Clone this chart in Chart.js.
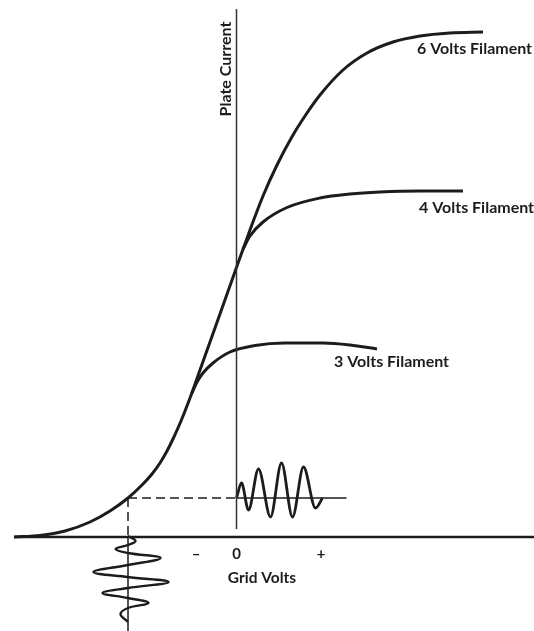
<!DOCTYPE html>
<html>
<head>
<meta charset="utf-8">
<title>Plate Current vs Grid Volts</title>
<script src="https://cdn.jsdelivr.net/npm/chart.js@4.4.1/dist/chart.umd.min.js"></script>
<style>
  html, body { margin: 0; padding: 0; background: #fff; }
  #wrap { width: 534px; height: 631px; position: relative; }
</style>
</head>
<body>
<div id="wrap"><canvas id="tubeChart"></canvas></div>
<script>
// x = grid volts, y = plate current (arbitrary units)
const filament6V = [
    [-22.25, 0], [-19.65, 0.15], [-17.15, 0.6], [-14.65, 1.5], [-12.65, 2.6], [-10.85, 3.9],
    [-9.35, 5.3], [-8.45, 6.3], [-7.65, 7.4], [-6.95, 8.6], [-6.35, 9.8], [-5.55, 11.6],
    [-4.65, 13.9], [-3.65, 16.7], [-2.15, 20.9], [0.05, 27.1], [1.35, 30.7], [2.65, 34.1],
    [4.05, 37.2], [5.65, 40.2], [7.05, 42.4], [8.35, 44.2], [10.65, 46.7], [13.05, 48.4],
    [15.65, 49.5], [18.35, 50.1], [21.35, 50.4], [24.65, 50.5]
];
const filament4V = [
    [0.65, 28.8], [1.35, 30.1], [2.65, 31.5], [5.05, 32.95], [8.35, 33.9], [11.35, 34.3],
    [14.35, 34.5], [18.35, 34.6], [22.65, 34.6]
];
const filament3V = [
    [-4.45, 14.4], [-3.95, 15.5], [-3.35, 16.4], [-2.35, 17.4], [-0.65, 18.5], [1.85, 19.15],
    [4.85, 19.4], [8.65, 19.4], [11.35, 19.2], [14.05, 18.8]
];
// output swing drawn on the plate side
const plateWave = [
    [0, 3.9], [0.5, 5.4], [1.2, 2.7], [2.2, 6.8], [3.4, 2.0], [4.5, 7.4],
    [5.6, 2.0], [6.7, 7.0], [7.9, 2.9], [8.6, 3.9]
];
// input signal drawn down the grid side
const gridWave = [
    [-10.85, 0.1], [-10.1, -0.4], [-10.85, -0.8], [-12.1, -1.2], [-10.85, -1.6],
    [-7.6, -2.1], [-10.85, -2.8], [-14.3, -3.5], [-10.85, -4.0], [-6.8, -4.5],
    [-10.85, -5.1], [-13.4, -5.6], [-10.85, -6.1], [-8.8, -6.6], [-10.85, -7.1],
    [-11.6, -7.7], [-10.85, -8.5]
];
const operatingPoint = [-10.85, 3.9];
const gridAxisRange = [-22.25, 29.75];
const plateAxisRange = [0.8, 52.8];
const plateBaselineEnd = 11.0;

const curveLabels = ['6 Volts Filament', '4 Volts Filament', '3 Volts Filament'];
const gridTicks = [-4.05, 0, 8.45];
const gridTickLabels = ['–', '0', '+'];

const INK = '#1c1c1c';

function pts(arr) {
    return arr.map(p => ({ x: p[0], y: p[1] }));
}

function lineSet(data, extra) {
    return Object.assign({
        data: data,
        showLine: true,
        pointRadius: 0,
        borderColor: INK,
        borderWidth: 3,
        fill: false
    }, extra || {});
}

// text placed in data coordinates
const textPlugin = {
    id: 'curveText',
    afterDatasetsDraw(chart) {
        const { ctx } = chart;
        const xs = chart.scales.x;
        const ys = chart.scales.y;
        const spots = [
            { text: curveLabels[0], at: [18.05, 48.8], align: 'left', size: 16 },
            { text: curveLabels[1], at: [18.25, 32.9], align: 'left', size: 16 },
            { text: curveLabels[2], at: [9.75, 17.5], align: 'left', size: 16 },
            { text: 'Grid Volts', at: [2.55, -4.1], align: 'center', size: 15.5 },
            { text: 'Plate Current', at: [-1.05, 46.8], align: 'center', size: 16, rotate: true }
        ];
        ctx.save();
        ctx.fillStyle = INK;
        ctx.textBaseline = 'middle';
        spots.forEach(s => {
            const px = xs.getPixelForValue(s.at[0]);
            const py = ys.getPixelForValue(s.at[1]);
            ctx.font = 'bold ' + s.size + 'px Lato';
            ctx.textAlign = s.align;
            if (s.rotate) {
                ctx.save();
                ctx.translate(px, py);
                ctx.rotate(-Math.PI / 2);
                ctx.fillText(s.text, 0, 0);
                ctx.restore();
            } else {
                ctx.fillText(s.text, px, py);
            }
        });
        ctx.restore();
    }
};

const ctx = document.getElementById('tubeChart').getContext('2d');
new Chart(ctx, {
    type: 'scatter',
    data: {
        datasets: [
            // axes
            lineSet([{ x: gridAxisRange[0], y: 0 }, { x: gridAxisRange[1], y: 0 }], { borderWidth: 2.5 }),
            lineSet([{ x: 0, y: plateAxisRange[1] }, { x: 0, y: plateAxisRange[0] }], { borderWidth: 1.5, borderColor: '#3a2e2e' }),
            // operating point projections
            lineSet([{ x: operatingPoint[0], y: operatingPoint[1] }, { x: 0, y: operatingPoint[1] }], { borderWidth: 1.5, borderDash: [9, 5] }),
            lineSet([{ x: operatingPoint[0], y: operatingPoint[1] }, { x: operatingPoint[0], y: 0 }], { borderWidth: 1.5, borderDash: [9, 5] }),
            lineSet([{ x: operatingPoint[0], y: 0 }, { x: operatingPoint[0], y: -9.4 }], { borderWidth: 1.5 }),
            lineSet([{ x: 0, y: operatingPoint[1] }, { x: plateBaselineEnd, y: operatingPoint[1] }], { borderWidth: 1.5 }),
            // characteristic curves
            lineSet(pts(filament6V), { cubicInterpolationMode: 'monotone' }),
            lineSet(pts(filament4V), { cubicInterpolationMode: 'monotone' }),
            lineSet(pts(filament3V), { cubicInterpolationMode: 'monotone' }),
            // signals
            lineSet(pts(plateWave), { cubicInterpolationMode: 'monotone', borderWidth: 2.8 }),
            lineSet(pts(gridWave), { tension: 0.4, borderWidth: 2.4 })
        ]
    },
    options: {
        responsive: true,
        maintainAspectRatio: false,
        animation: false,
        layout: { padding: 0 },
        plugins: {
            legend: { display: false },
            tooltip: { enabled: false }
        },
        scales: {
            x: {
                type: 'linear',
                min: -23.65,
                max: 29.75,
                position: { y: 0 },
                grid: { display: false, drawTicks: false },
                border: { display: false },
                afterBuildTicks: axis => {
                    axis.ticks = gridTicks.map(v => ({ value: v }));
                },
                ticks: {
                    autoSkip: false,
                    maxRotation: 0,
                    padding: 8,
                    color: INK,
                    font: { family: 'Lato', size: 15, weight: 'bold' },
                    callback: (value, index) => gridTickLabels[index]
                }
            },
            y: {
                type: 'linear',
                display: false,
                min: -9.4,
                max: 53.7
            }
        }
    },
    plugins: [textPlugin]
});
</script>
</body>
</html>
